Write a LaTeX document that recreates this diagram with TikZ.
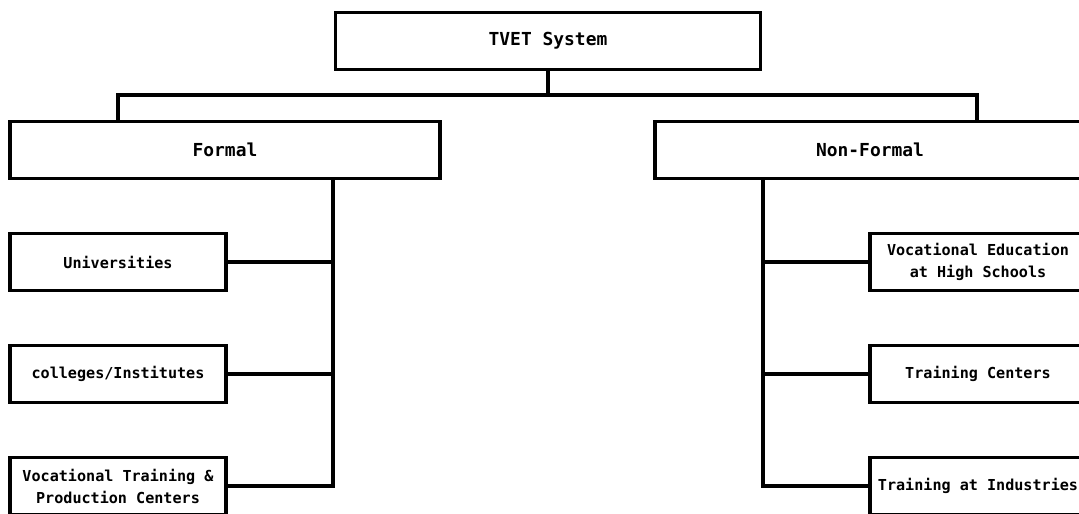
\documentclass[tikz,border=0pt]{standalone}
\usepackage{fontspec}
\setmainfont{DejaVu Sans Mono}

\tikzset{
  box/.style={draw, line width=2.2pt, align=center, inner sep=0pt, fill=white},
  headbox/.style={box, minimum height=1.14cm, font=\bfseries\fontsize{10.2}{12}\selectfont},
  leafbox/.style={box, minimum width=4.32cm, minimum height=1.14cm, font=\bfseries\fontsize{8.6}{12.5}\selectfont},
}

\begin{document}
\begin{tikzpicture}[x=0.02cm, y=-0.02cm, line width=2.2pt]
      \useasboundingbox (0,0) rectangle (1079,514);
      % top level
      \node[headbox, minimum width=8.5cm] (tvet) at (548,41) {TVET System};
      \node[headbox, minimum width=8.6cm] (formal) at (225,150) {Formal};
      \node[headbox, minimum width=8.6cm] (nonformal) at (870,150) {Non-Formal};
      % formal branch
      \node[leafbox] (univ) at (118,262) {Universities};
      \node[leafbox] (coll) at (118,374) {colleges/Institutes};
      \node[leafbox] (vtpc) at (118,486) {Vocational Training \&\\Production Centers};
      % non-formal branch
      \node[leafbox] (vehs) at (978,262) {Vocational Education\\at High Schools};
      \node[leafbox] (trc) at (978,374) {Training Centers};
      \node[leafbox] (tri) at (978,486) {Training at Industries};
      % bus
      \coordinate (bus) at (548,95);
      \coordinate (busL) at (118,95);
      \coordinate (busR) at (977,95);
      \draw (tvet.south) -- (bus);
      \draw (busL |- formal.north) -- (busL) -- (busR) -- (busR |- nonformal.north);
      % trunks, ending in the last branch
      \coordinate (trunkL) at (333,486);
      \coordinate (trunkR) at (763,486);
      \draw (trunkL |- formal.south) -- (trunkL) -- (vtpc.east);
      \draw (trunkR |- nonformal.south) -- (trunkR) -- (tri.west);
      \foreach \leaf in {univ,coll} {
        \draw (\leaf.east) -- (\leaf.east -| trunkL);
      }
      \foreach \leaf in {vehs,trc} {
        \draw (\leaf.west) -- (\leaf.west -| trunkR);
      }
    \end{tikzpicture}
\end{document}
